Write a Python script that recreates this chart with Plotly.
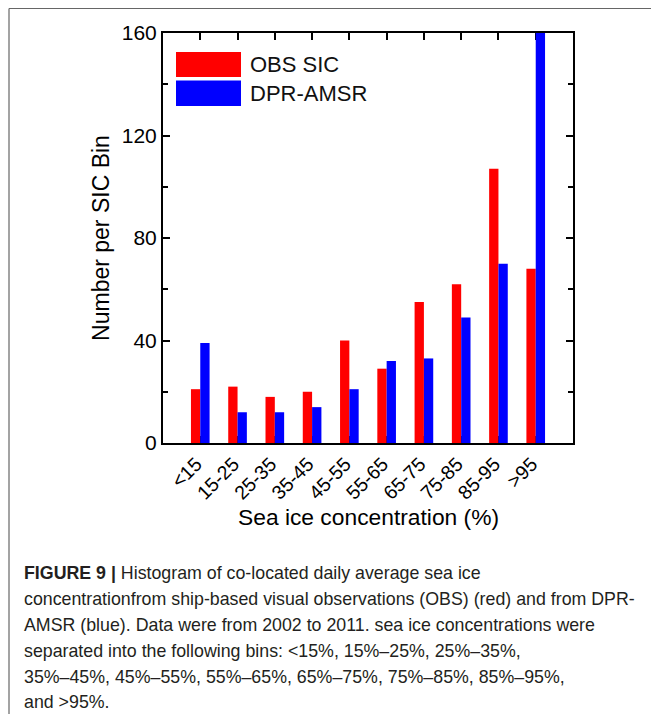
import plotly.graph_objects as go

categories = ["<15", "15-25", "25-35", "35-45", "45-55", "55-65", "65-75", "75-85", "85-95", ">95"]
obs_sic = [21, 22, 18, 20, 40, 29, 55, 62, 107, 68]
dpr_amsr = [39, 12, 12, 14, 21, 32, 33, 49, 70, 160]
y_ticks = [0, 40, 80, 120, 160]

W, H = 651, 714
L, R, T, B = 163, 573, 33, 443

def px(x):
    return (x - L) / (R - L)

def py(y):
    return (B - y) / (B - T)

FONT = "Liberation Sans, Arial, sans-serif"

fig = go.Figure()
fig.add_trace(go.Bar(x=categories, y=obs_sic, name="OBS SIC", marker_color="#ff0000",
                     marker_line_width=0, showlegend=False))
fig.add_trace(go.Bar(x=categories, y=dpr_amsr, name="DPR-AMSR", marker_color="#0000ff",
                     marker_line_width=0, showlegend=False))

shapes = []
annotations = []

# legend swatches
for (y0, y1, col, label) in [(52, 77, "#ff0000", "OBS SIC"), (80.5, 106, "#0000ff", "DPR-AMSR")]:
    shapes.append(dict(type="rect", xref="paper", yref="paper",
                       x0=px(176), x1=px(241), y0=py(y1), y1=py(y0),
                       fillcolor=col, line_width=0, layer="above"))
    annotations.append(dict(text=label, xref="paper", yref="paper",
                            x=px(248), y=py((y0 + y1) / 2), xanchor="left", yanchor="middle",
                            showarrow=False, font=dict(family=FONT, size=22, color="#111")))

# x axis title
annotations.append(dict(text="Sea ice concentration (%)", xref="paper", yref="paper",
                        x=0.5, y=py(517), xanchor="center", yanchor="middle", showarrow=False,
                        font=dict(size=22.8, family=FONT, color="black")))

# page frame lines
shapes.append(dict(type="line", xref="paper", yref="paper", x0=px(9), x1=px(651),
                   y0=py(8.5), y1=py(8.5), line=dict(color="#666", width=1.2)))
shapes.append(dict(type="line", xref="paper", yref="paper", x0=px(9), x1=px(9),
                   y0=py(8.5), y1=py(714), line=dict(color="#666", width=1.2)))

caption = [
    "<b>FIGURE 9 |</b> Histogram of co-located daily average sea ice",
    "concentrationfrom ship-based visual observations (OBS) (red) and from DPR-",
    "AMSR (blue). Data were from 2002 to 2011. sea ice concentrations were",
    "separated into the following bins: &lt;15%, 15%–25%, 25%–35%,",
    "35%–45%, 45%–55%, 55%–65%, 65%–75%, 75%–85%, 85%–95%,",
    "and &gt;95%.",
]
cap_y = [573, 599, 625, 651, 677, 702]
for line, yy in zip(caption, cap_y):
    annotations.append(dict(text=line, xref="paper", yref="paper", x=px(22), y=py(yy),
                            xanchor="left", yanchor="middle", showarrow=False,
                            font=dict(family=FONT, size=17.8, color="#231f20")))

fig.update_layout(
    width=W, height=H,
    margin=dict(l=L, r=W - R, t=T, b=H - B, autoexpand=False),
    paper_bgcolor="white", plot_bgcolor="white",
    barmode="group", bargap=0.5, bargroupgap=0,
    font=dict(family=FONT, color="black"),
    shapes=shapes, annotations=annotations,
    showlegend=False,
)
fig.update_xaxes(
    type="category", range=[-1, 10], showline=True, linecolor="black", linewidth=2,
    mirror="ticks", ticks="inside", ticklen=7, tickwidth=1.5, tickcolor="black",
    tickangle=-45, tickfont=dict(size=19.5, family=FONT, color="black"),
    ticklabelshift=-4, ticklabelstandoff=0,
    showgrid=False, layer="below traces",
)
fig.update_yaxes(
    range=[0, 160], tickvals=y_ticks, showline=True, linecolor="black", linewidth=2,
    mirror="ticks", ticks="inside", ticklen=7, tickwidth=1.5, tickcolor="black",
    minor=dict(dtick=20, ticks="inside", ticklen=5, tickwidth=1.5, tickcolor="black"),
    tickfont=dict(size=21, family=FONT, color="black"), showgrid=False, zeroline=False,
    title=dict(text="Number per SIC Bin", font=dict(size=23, family=FONT, color="black"), standoff=6),
)

fig.write_html("out.html")
